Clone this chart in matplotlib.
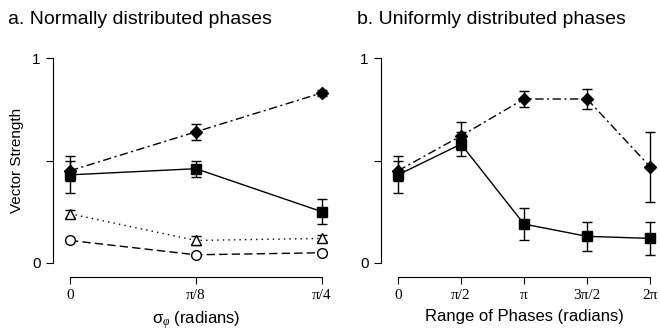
import matplotlib.pyplot as plt
import numpy as np

plt.rcParams['font.family'] = ['Liberation Sans', 'DejaVu Sans']
plt.rcParams['mathtext.fontset'] = 'custom'
plt.rcParams['mathtext.rm'] = 'Liberation Sans'
plt.rcParams['mathtext.it'] = 'Liberation Serif:italic'

# panel a: normally distributed phases
sigma = np.array([0, np.pi / 8, np.pi / 4])
sigma_labels = ["0", "π/8", "π/4"]
a_diamond = [0.45, 0.64, 0.83]
a_diamond_err = [0.05, 0.04, 0.015]
a_square = [0.43, 0.46, 0.25]
a_square_err = [0.09, 0.04, 0.06]
a_triangle = [0.24, 0.11, 0.12]
a_triangle_err = [0.02, 0.02, 0.015]
a_circle = [0.11, 0.04, 0.05]

# panel b: uniformly distributed phases
phase_range = np.array([0, np.pi / 2, np.pi, 3 * np.pi / 2, 2 * np.pi])
range_labels = ["0", "π/2", "π", "3π/2", "2π"]
b_diamond = [0.45, 0.62, 0.80, 0.80, 0.47]
b_diamond_err = [0.05, 0.07, 0.04, 0.05, 0.17]
b_square = [0.43, 0.58, 0.19, 0.13, 0.12]
b_square_err = [0.09, 0.06, 0.08, 0.07, 0.08]

fig = plt.figure(figsize=(6.6, 3.34), dpi=100)
W, H = 660, 334


def make_axes(x0, x1):
    ax = fig.add_axes([x0 / W, (H - 263) / H, (x1 - x0) / W, 205 / H])
    ax.set_ylim(0, 1)
    for side in ("top", "right"):
        ax.spines[side].set_visible(False)
    ax.spines["left"].set_position(("outward", 12))
    ax.spines["bottom"].set_position(("outward", 10))
    ax.spines["left"].set_linewidth(0.8)
    ax.spines["bottom"].set_linewidth(0.8)
    ax.set_yticks([0, 0.5, 1])
    ax.set_yticklabels(["0", "", "1"], fontsize=11)
    ax.tick_params(axis="both", direction="out", length=5, width=0.8, pad=4)
    ax.patch.set_visible(False)
    return ax


def series(ax, x, y, err, marker, ls, filled=True, ms=7):
    ax.errorbar(x, y, yerr=err, color="black", marker=marker, linestyle=ls,
                linewidth=1.0, markersize=ms, capsize=3.5, elinewidth=1.0,
                capthick=1.0, markerfacecolor="black" if filled else "white",
                markeredgecolor="black", clip_on=False, zorder=3)


dashdot = (0, (6, 2.5, 1.5, 2.5))

ax1 = make_axes(70, 322)
ax1.set_xlim(sigma[0], sigma[-1])
ax1.spines["bottom"].set_bounds(sigma[0], sigma[-1])
ax1.set_xticks(sigma)
ax1.set_xticklabels(sigma_labels, fontsize=11, family=["Liberation Serif", "DejaVu Serif"])
series(ax1, sigma, a_diamond, a_diamond_err, "D", dashdot, ms=6.5)
series(ax1, sigma, a_square, a_square_err, "s", "-", ms=6.5)
series(ax1, sigma, a_triangle, a_triangle_err, "^", (0, (1, 3)), filled=False, ms=7)
series(ax1, sigma, a_circle, None, "o", (0, (6, 3)), filled=False, ms=7)
ax1.set_xlabel(r"σ$_{\varphi}$ (radians)", fontsize=12, labelpad=5)
ax1.set_ylabel("Vector Strength", fontsize=11, labelpad=6)
fig.text(8 / W, 1 - 19 / H, "a. Normally distributed phases", fontsize=14, va="center")

ax2 = make_axes(398, 650)
ax2.set_xlim(phase_range[0], phase_range[-1])
ax2.spines["bottom"].set_bounds(phase_range[0], phase_range[-1])
ax2.set_xticks(phase_range)
ax2.set_xticklabels(range_labels, fontsize=11, family=["Liberation Serif", "DejaVu Serif"])
series(ax2, phase_range, b_diamond, b_diamond_err, "D", dashdot, ms=6.5)
series(ax2, phase_range, b_square, b_square_err, "s", "-", ms=6.5)
ax2.set_xlabel("Range of Phases (radians)", fontsize=12, labelpad=5)
fig.text(357 / W, 1 - 19 / H, "b. Uniformly distributed phases", fontsize=14, va="center")

fig.savefig("out.png", dpi=100)
plt.close(fig)
